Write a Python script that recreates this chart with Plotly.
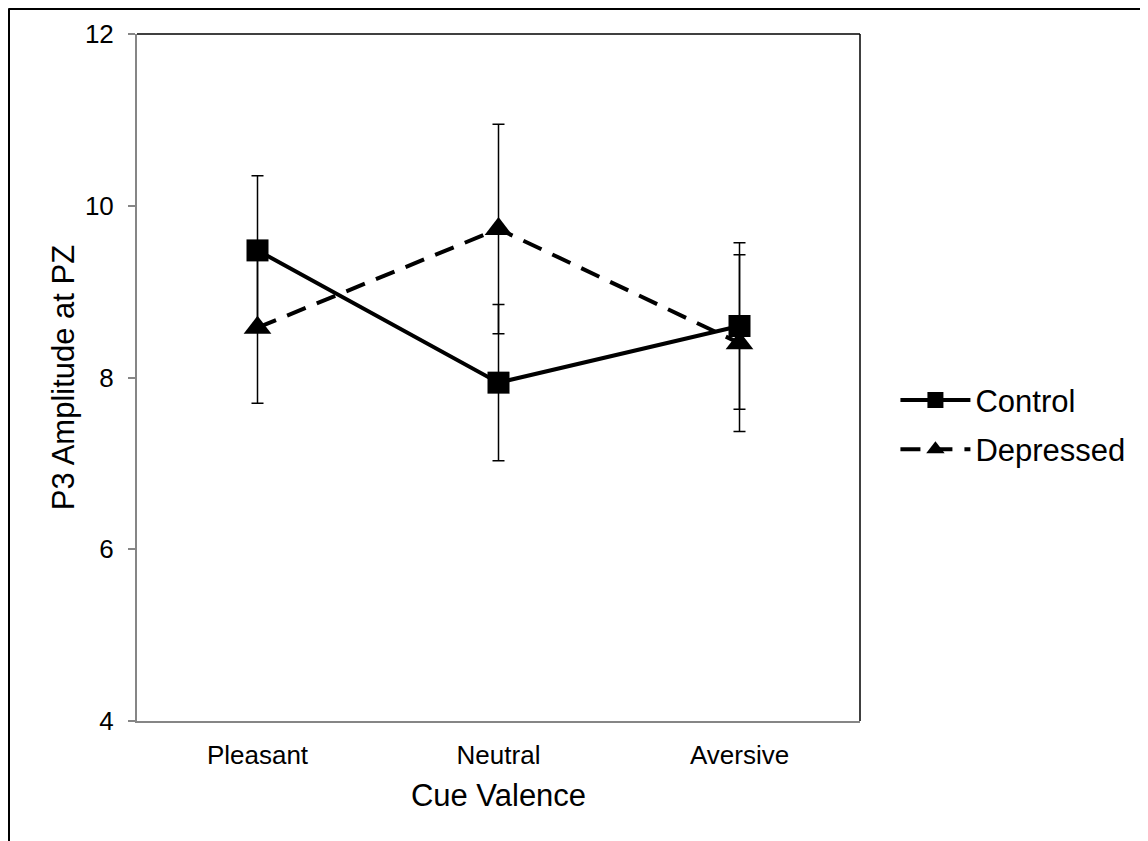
import plotly.graph_objects as go

categories = ["Pleasant", "Neutral", "Aversive"]
control_vals = [9.48, 7.94, 8.60]
control_err = [0.87, 0.91, 0.97]
depressed_vals = [8.58, 9.73, 8.40]
depressed_err = [0.88, 1.22, 1.03]
y_ticks = [4, 6, 8, 10, 12]

FONT = "Liberation Sans, Arial, sans-serif"

fig = go.Figure()

fig.add_trace(go.Scatter(
    x=categories, y=depressed_vals, name="Depressed", mode="lines+markers",
    legendgroup="d", legendrank=2,
    line=dict(color="black", width=4, dash="20px,12px"),
    marker=dict(symbol="triangle-up", size=24, color="black"),
    error_y=dict(type="data", array=depressed_err, visible=True,
                 color="black", thickness=1.5, width=6),
))
fig.add_trace(go.Scatter(
    x=categories, y=control_vals, name="Control", mode="lines+markers",
    legendgroup="c", legendrank=1,
    line=dict(color="black", width=4),
    marker=dict(symbol="square", size=22, color="black"),
    error_y=dict(type="data", array=control_err, visible=True,
                 color="black", thickness=1.5, width=6),
))

ML, MT, MR, MB = 129, 26, 296, 128
PW = 1148 - ML - MR
PH = 841 - MT - MB

fig.update_layout(
    width=1148, height=841,
    margin=dict(l=ML, r=MR, t=MT, b=MB),
    paper_bgcolor="white", plot_bgcolor="white",
    font=dict(family=FONT, size=26, color="black"),
    showlegend=True,
    legend=dict(
        x=1.049, y=0.431, xanchor="left", yanchor="middle",
        font=dict(family=FONT, size=31, color="black"),
        tracegroupgap=6, bgcolor="rgba(0,0,0,0)",
        itemwidth=70,
    ),
    xaxis=dict(
        type="category", range=[-0.5, 2.5],
        showline=True, linecolor="#868686", linewidth=2,
        ticks="", showgrid=False, zeroline=False,
        tickfont=dict(size=26), ticklabelstandoff=10,
        title=dict(text="Cue Valence", font=dict(size=31), standoff=15),
    ),
    yaxis=dict(
        range=[4, 12], tickvals=y_ticks,
        showline=True, linecolor="#868686", linewidth=2,
        ticks="outside", ticklen=7, tickwidth=1.5, tickcolor="#868686",
        showgrid=False, zeroline=False,
        tickfont=dict(size=26), ticklabelstandoff=9,
        title=dict(text="P3 Amplitude at PZ", font=dict(size=31), standoff=1),
    ),
    shapes=[
        dict(type="line", xref="paper", yref="paper", x0=0, x1=1, y0=1, y1=1,
             line=dict(color="black", width=1.5)),
        dict(type="line", xref="paper", yref="paper", x0=1, x1=1, y0=0, y1=1,
             line=dict(color="black", width=1.5)),
        dict(type="line", xref="paper", yref="paper",
             x0=-(ML - 0.5) / PW, x1=2, y0=1 + (MT - 0.5) / PH, y1=1 + (MT - 0.5) / PH,
             line=dict(color="black", width=3)),
        dict(type="line", xref="paper", yref="paper",
             x0=-(ML - 0.5) / PW, x1=-(ML - 0.5) / PW, y0=-1, y1=1 + (MT - 0.5) / PH,
             line=dict(color="black", width=3)),
    ],
)

fig.write_html("out.html")
